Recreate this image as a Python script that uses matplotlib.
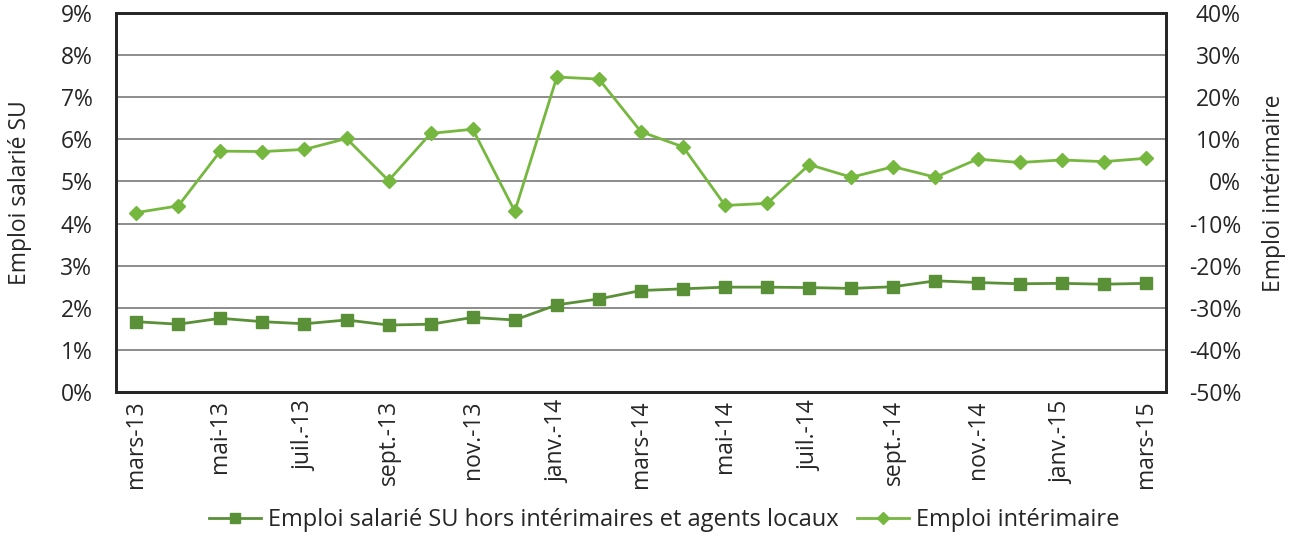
import numpy as np
import matplotlib
matplotlib.use("Agg")
import matplotlib.pyplot as plt
from matplotlib.ticker import FuncFormatter

# ---- DATA ------------------------------------------------------------------
months = [
    "mars-13", "avr.-13", "mai-13", "juin-13", "juil.-13", "août-13",
    "sept.-13", "oct.-13", "nov.-13", "déc.-13", "janv.-14", "févr.-14",
    "mars-14", "avr.-14", "mai-14", "juin-14", "juil.-14", "août-14",
    "sept.-14", "oct.-14", "nov.-14", "déc.-14", "janv.-15", "févr.-15",
    "mars-15",
]

# Emploi salarié SU hors intérimaires et agents locaux (left axis, %)
emploi_su = [
    1.67, 1.61, 1.75, 1.67, 1.62, 1.71, 1.59, 1.61, 1.77, 1.71,
    2.07, 2.21, 2.41, 2.45, 2.49, 2.49, 2.48, 2.46, 2.50, 2.64,
    2.60, 2.57, 2.58, 2.56, 2.58,
]

# Emploi intérimaire (right axis, %)
emploi_interim = [
    -7.4, -5.8, 7.2, 7.1, 7.6, 10.2, 0.2, 11.4, 12.4, -7.1,
    24.8, 24.3, 11.8, 8.2, -5.7, -5.2, 4.0, 1.0, 3.5, 1.0,
    5.3, 4.5, 5.1, 4.7, 5.5,
]

label_su = "Emploi salarié SU hors intérimaires et agents locaux"
label_interim = "Emploi intérimaire"

# ---- STYLE -----------------------------------------------------------------
DARK_GREEN = "#5a9138"
LIGHT_GREEN = "#76b83f"
FRAME = "#262626"
GRID = "#8c8c8c"
TEXT = "#262626"
FS = 16.5

plt.rcParams["font.family"] = ["Open Sans", "DejaVu Sans"]
plt.rcParams["text.color"] = TEXT

fig = plt.figure(figsize=(12.95, 5.38), dpi=100)
ax = fig.add_axes([116 / 1295, 1 - 392 / 538, 1050 / 1295, 379 / 538])
ax2 = ax.twinx()

x = np.arange(len(months))

l1, = ax.plot(x, emploi_su, color=DARK_GREEN, lw=2.0, marker="s", ms=9,
              label=label_su, zorder=3)
l2, = ax2.plot(x, emploi_interim, color=LIGHT_GREEN, lw=2.0, marker="D", ms=7.5,
               label=label_interim, zorder=3)

ax.set_xlim(-0.48, len(months) - 1 + 0.48)
ax.set_ylim(0, 9)
ax2.set_ylim(-50, 40)
ax.set_yticks(np.arange(0, 10, 1))
ax2.set_yticks(np.arange(-50, 50, 10))
pct = FuncFormatter(lambda v, _: f"{v:.0f}%")
ax.yaxis.set_major_formatter(pct)
ax2.yaxis.set_major_formatter(pct)

# grid drawn on the left axis
ax.grid(axis="y", color=GRID, lw=1.4)
ax.set_axisbelow(True)

ax.set_xticks(x[::2])
ax.set_xticklabels(months[::2], rotation=90, fontsize=FS, color=TEXT)
ax.tick_params(axis="x", length=0, pad=6)
ax.tick_params(axis="y", length=0, pad=17, labelsize=FS, labelcolor=TEXT)
ax2.tick_params(axis="y", length=0, pad=54, labelsize=FS, labelcolor=TEXT)
for lab in ax2.get_yticklabels():
    lab.set_horizontalalignment("right")

for a in (ax, ax2):
    for s in a.spines.values():
        s.set_color(FRAME)
        s.set_linewidth(2)

ax.set_ylabel("Emploi salarié SU", fontsize=FS, color=TEXT)
ax2.set_ylabel("Emploi intérimaire", fontsize=FS, color=TEXT)
ax.yaxis.set_label_coords(-0.080, 0.525)
ax2.yaxis.set_label_coords(1.0915, 0.525)

fig.legend(handles=[l1, l2], loc="center", bbox_to_anchor=(0.513, 0.033),
           ncol=2, frameon=False, fontsize=17, handlelength=2.2,
           handletextpad=0.3, columnspacing=0.8, borderaxespad=0,
           markerscale=0.8)

fig.savefig("out.png", dpi=100)
